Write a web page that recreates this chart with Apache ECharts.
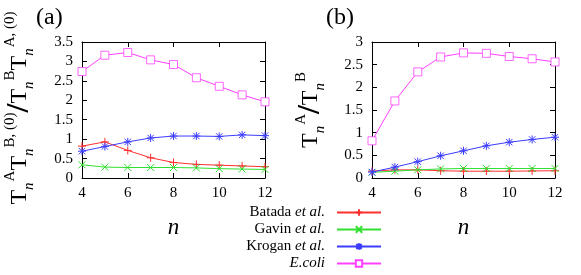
<!DOCTYPE html>
<html><head><meta charset="utf-8">
<script src="https://cdn.jsdelivr.net/npm/echarts@6/dist/echarts.min.js"></script>
<style>html,body{margin:0;padding:0;background:#fff}#c{width:581px;height:275px}</style>
</head><body><div id="c"></div>
<script>
const nValues = [4, 5, 6, 7, 8, 9, 10, 11, 12];
const seriesNames = ['Batada et al.', 'Gavin et al.', 'Krogan et al.', 'E.coli'];
// panel (a)
const aBatada = [0.82, 0.93, 0.71, 0.52, 0.40, 0.35, 0.33, 0.31, 0.29];
const aGavin  = [0.34, 0.28, 0.27, 0.27, 0.27, 0.26, 0.24, 0.23, 0.22];
const aKrogan = [0.69, 0.81, 0.93, 1.03, 1.08, 1.08, 1.07, 1.11, 1.09];
const aEcoli  = [2.74, 3.16, 3.23, 3.04, 2.92, 2.58, 2.36, 2.14, 1.96];
// panel (b)
const bBatada = [0.15, 0.18, 0.18, 0.16, 0.15, 0.15, 0.15, 0.155, 0.16];
const bGavin  = [0.125, 0.15, 0.18, 0.20, 0.21, 0.21, 0.21, 0.21, 0.21];
const bKrogan = [0.13, 0.24, 0.36, 0.49, 0.60, 0.71, 0.79, 0.85, 0.90];
const bEcoli  = [0.82, 1.70, 2.34, 2.67, 2.76, 2.75, 2.68, 2.63, 2.56];
const xTicks = [4, 6, 8, 10, 12];

const colors = ['#ff3030', '#30e030', '#3c3cff', '#ff40ff'];
const symbols = ['path://M0,5H10M5,0V10', 'path://M0,0L10,10M0,10L10,0',
  'path://M0,5H10M5,0V10M1,1L9,9M1,9L9,1', 'path://M0,0H10V10H0Z'];
const sizes = [8, 7, 8, 8];
const borders = [1, 1, 1, 0.8];
const FONT = "'Liberation Serif', 'Times New Roman', 'DejaVu Serif', serif";

const chart = echarts.init(document.getElementById('c'), null, {renderer: 'canvas'});
function mk(name, i, vals, xi, yi) {
  return {
    name: name, type: 'line', xAxisIndex: xi, yAxisIndex: yi,
    data: nValues.map((n, k) => [n, vals[k]]),
    symbol: symbols[i], symbolSize: sizes[i], showAllSymbol: true,
    lineStyle: {color: colors[i], width: 1},
    itemStyle: {color: i === 3 ? '#ffffff' : colors[i], borderColor: colors[i], borderWidth: borders[i]},
    animation: false, z: 2 + i
  };
}
const aSets = [aBatada, aGavin, aKrogan, aEcoli];
const bSets = [bBatada, bGavin, bKrogan, bEcoli];
const series = [];
seriesNames.forEach((nm, i) => series.push(mk(nm, i, aSets[i], 0, 0)));
seriesNames.forEach((nm, i) => series.push(mk(nm, i, bSets[i], 2, 2)));

const tickStyle = {show: true, inside: true, length: 5, lineStyle: {color: '#000'}};
const lineStyle = {show: true, onZero: false, lineStyle: {color: '#000', width: 1}};
const lbl = {fontFamily: FONT, fontSize: 15, color: '#000'};
function xAx(grid, pos, show) {
  return {type: 'value', gridIndex: grid, position: pos, min: 4, max: 12, interval: 2,
    axisLine: lineStyle, axisTick: tickStyle, splitLine: {show: false},
    axisLabel: Object.assign({show: show, margin: 8}, lbl),
    name: show ? 'n' : '', nameLocation: 'middle', nameGap: 38,
    nameTextStyle: {fontFamily: FONT, fontSize: 23, fontStyle: 'italic', color: '#000'}};
}
function yAx(grid, pos, show, max) {
  return {type: 'value', gridIndex: grid, position: pos, min: 0, max: max, interval: 0.5,
    axisLine: lineStyle, axisTick: tickStyle, splitLine: {show: false},
    axisLabel: Object.assign({show: show, margin: 9}, lbl)};
}
const rich = {
  T: {fontFamily: FONT, fontSize: 24, color: '#000', lineHeight: 34},
  sup: {fontFamily: FONT, fontSize: 15, color: '#000', verticalAlign: 'top', lineHeight: 34, padding: [0,0,0,1]},
  sub: {fontFamily: FONT, fontSize: 15, fontStyle: 'italic', color: '#000', verticalAlign: 'bottom', lineHeight: 34},
  sl: {fontFamily: FONT, fontSize: 32, fontWeight: 'bold', color: '#000', lineHeight: 34}
};
chart.setOption({
  backgroundColor: '#fff',
  animation: false,
  grid: [
    {left: 82, right: 316, top: 42, bottom: 97},
    {left: 372, right: 26, top: 42, bottom: 97}
  ],
  xAxis: [xAx(0, 'bottom', true), xAx(0, 'top', false), xAx(1, 'bottom', true), xAx(1, 'top', false)],
  yAxis: [yAx(0, 'left', true, 3.5), yAx(0, 'right', false, 3.5), yAx(1, 'left', true, 3), yAx(1, 'right', false, 3)],
  legend: {
    data: seriesNames, orient: 'vertical', align: 'right', left: 245, top: 205, padding: 0,
    itemWidth: 44, itemHeight: 8, itemGap: 2,
    formatter: nm => nm === 'E.coli' ? '{i|E.coli}' : '{r|' + nm.replace(' et al.', ' ') + '}{i|et al.}',
    textStyle: {width: 80, align: 'right', padding: [0, 7, 0, 0], lineHeight: 14, fontFamily: FONT, fontSize: 15, color: '#000',
      rich: {r: {fontFamily: FONT, fontSize: 15, color: '#000', lineHeight: 14},
             i: {fontFamily: FONT, fontSize: 15, fontStyle: 'italic', color: '#000', lineHeight: 14}}}
  },
  graphic: [
    {type: 'text', left: 36, top: 6, style: {text: '(a)', fontFamily: FONT, fontSize: 24, fill: '#000'}},
    {type: 'text', left: 326, top: 6, style: {text: '(b)', fontFamily: FONT, fontSize: 24, fill: '#000'}},
    {type: 'text', x: 20, y: 108, rotation: Math.PI / 2,
      style: {text: '{T|T}{sub|n}{sup|A}{T|T}{sub|n}{sup|B, (0)}{sl|/}{T|T}{sub|n}{sup|B}{T|T}{sub|n}{sup|A, (0)}',
        rich: rich, align: 'center', verticalAlign: 'middle'}},
    {type: 'text', x: 311, y: 110, rotation: Math.PI / 2,
      style: {text: '{T|T}{sub|n}{sup|A}{sl|/}{T|T}{sub|n}{sup|B}',
        rich: rich, align: 'center', verticalAlign: 'middle'}}
  ],
  series: series
});
</script></body></html>
